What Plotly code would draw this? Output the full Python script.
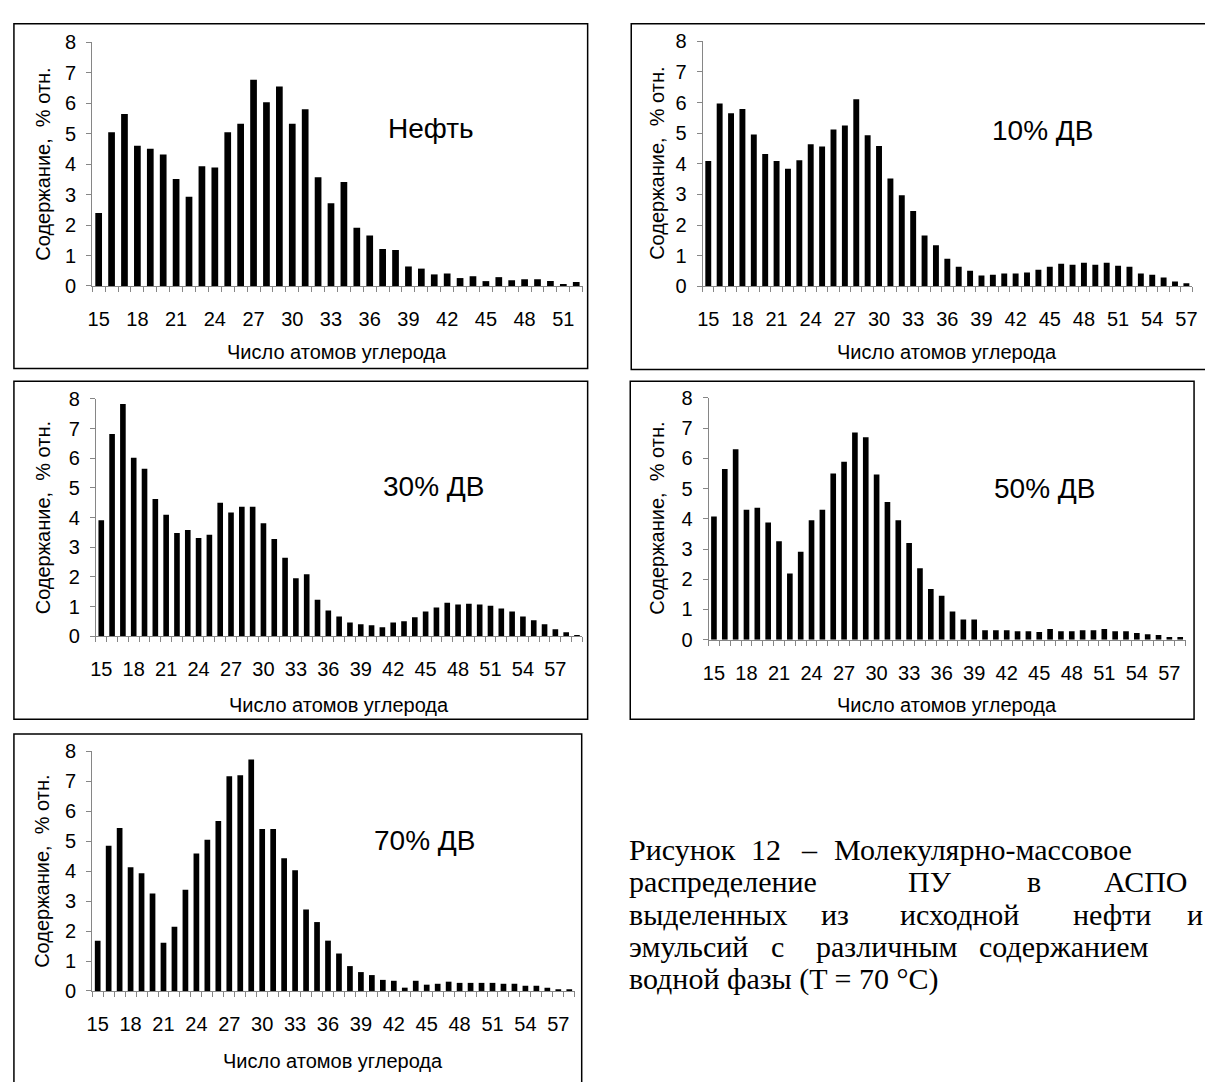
import plotly.graph_objects as go

# ---- data: relative content (%) of n-alkanes by carbon number ----
carbon_neft = list(range(15, 53))
neft = [2.39, 5.04, 5.64, 4.60, 4.50, 4.31, 3.51, 2.93, 3.93, 3.89,
        5.04, 5.32, 6.76, 6.03, 6.54, 5.32, 5.80, 3.57, 2.71, 3.41,
        1.91, 1.66, 1.21, 1.18, 0.64, 0.57, 0.38, 0.41, 0.26, 0.32,
        0.16, 0.29, 0.19, 0.22, 0.22, 0.16, 0.06, 0.13]

carbon_10 = list(range(15, 58))
dv_10 = [4.09, 5.97, 5.65, 5.79, 4.96, 4.32, 4.09, 3.84, 4.12, 4.64,
         4.57, 5.12, 5.25, 6.11, 4.93, 4.58, 3.52, 2.97, 2.46, 1.66,
         1.34, 0.90, 0.64, 0.51, 0.35, 0.38, 0.42, 0.42, 0.45, 0.54,
         0.64, 0.74, 0.70, 0.77, 0.70, 0.77, 0.67, 0.64, 0.42, 0.38,
         0.29, 0.16, 0.10]

carbon_30 = list(range(15, 60))
dv_30 = [3.91, 6.82, 7.83, 6.02, 5.65, 4.63, 4.10, 3.48, 3.58, 3.31,
         3.42, 4.50, 4.17, 4.37, 4.37, 3.81, 3.28, 2.65, 1.96, 2.09,
         1.23, 0.87, 0.67, 0.47, 0.41, 0.37, 0.31, 0.47, 0.51, 0.64,
         0.84, 0.97, 1.13, 1.07, 1.10, 1.07, 1.03, 0.94, 0.84, 0.67,
         0.54, 0.41, 0.24, 0.14, 0.04]

carbon_50 = list(range(15, 59))
dv_50 = [4.08, 5.65, 6.30, 4.30, 4.37, 3.88, 3.26, 2.19, 2.91, 3.95,
         4.30, 5.50, 5.89, 6.86, 6.70, 5.47, 4.56, 3.95, 3.20, 2.36,
         1.68, 1.45, 0.93, 0.67, 0.67, 0.31, 0.31, 0.31, 0.28, 0.28,
         0.25, 0.35, 0.28, 0.28, 0.31, 0.31, 0.35, 0.28, 0.28, 0.22,
         0.18, 0.15, 0.09, 0.09]

carbon_70 = list(range(15, 59))
dv_70 = [1.68, 4.85, 5.44, 4.13, 3.93, 3.25, 1.61, 2.14, 3.38, 4.59,
         5.05, 5.67, 7.17, 7.20, 7.73, 5.41, 5.41, 4.43, 4.03, 2.72,
         2.30, 1.68, 1.25, 0.83, 0.63, 0.53, 0.37, 0.34, 0.11, 0.34,
         0.21, 0.24, 0.31, 0.27, 0.27, 0.27, 0.27, 0.24, 0.24, 0.17,
         0.17, 0.11, 0.04, 0.04]

panel_labels = ["Нефть", "10% ДВ", "30% ДВ", "50% ДВ", "70% ДВ"]
y_title = "Содержание,  % отн."
x_title = "Число атомов углерода"
y_ticks = list(range(0, 9))

caption_lines = [
    ["Рисунок", "12", "–", "Молекулярно-массовое"],
    ["распределение", "ПУ", "в", "АСПО"],
    ["выделенных", "из", "исходной", "нефти", "и"],
    ["эмульсий", "с", "различным", "содержанием"],
    ["водной фазы (T = 70 °C)"],
]

# ---- page layout (pixels) ----
W, H = 1205, 1082
SANS = "Liberation Sans, Arial, sans-serif"
SERIF = "Liberation Serif, Times New Roman, serif"
AXIS_GRAY = "#868686"

series = [
    (carbon_neft, neft),
    (carbon_10, dv_10),
    (carbon_30, dv_30),
    (carbon_50, dv_50),
    (carbon_70, dv_70),
]

# plot box (x0, x1, y_top, y_zero), outer frame, label centre, title positions
geom = [
    dict(plot=(87, 582, 31.7, 280.7), frame=(8, 587, 13, 365),
         label=(429, 120), ytx=37, xty=348),
    dict(plot=(703, 1197, 31.0, 281.0), frame=(631, 1212, 13, 366),
         label=(1046, 122), ytx=657, xty=348),
    dict(plot=(90.7, 581.7, 396.0, 638.3), frame=(8, 587, 378, 723),
         label=(431, 485), ytx=37, xty=708),
    dict(plot=(709, 1190.5, 395.0, 641.7), frame=(630, 1199, 378, 723),
         label=(1048, 487), ytx=657, xty=708),
    dict(plot=(87, 574, 755.7, 1000.3), frame=(8, 581, 738, 1095),
         label=(422, 847), ytx=36, xty=1072),
]


def px(x):
    return x / W


def py(y):
    return 1 - y / H


fig = go.Figure()
layout = dict(
    width=W, height=H,
    margin=dict(l=0, r=0, t=0, b=0),
    paper_bgcolor="white", plot_bgcolor="white",
    showlegend=False,
    font=dict(family=SANS, color="black"),
    annotations=[], shapes=[],
)

for i, ((cx, cy), g) in enumerate(zip(series, geom), start=1):
    xa = "x" if i == 1 else f"x{i}"
    ya = "y" if i == 1 else f"y{i}"
    x0, x1, yt, y0 = g["plot"]

    fig.add_trace(go.Bar(
        x=cx, y=cy, xaxis=xa, yaxis=ya,
        marker=dict(color="black", line=dict(width=0)),
        width=0.52, hoverinfo="skip",
    ))

    layout[f"xaxis{'' if i == 1 else i}"] = dict(
        domain=[px(x0), px(x1)], anchor=ya,
        range=[cx[0] - 0.5, cx[-1] + 0.5],
        tickmode="array", tickvals=list(range(cx[0], cx[-1] + 1, 3)),
        ticks="", showgrid=False, zeroline=False,
        showline=True, linecolor=AXIS_GRAY, linewidth=1,
        tickfont=dict(size=20, family=SANS, color="black"),
        ticklabelstandoff=15,
        minor=dict(tickmode="linear", tick0=cx[0] - 0.5, dtick=1,
                   ticks="outside", ticklen=5, tickcolor=AXIS_GRAY,
                   tickwidth=1, showgrid=False),
        fixedrange=True,
    )
    layout[f"yaxis{'' if i == 1 else i}"] = dict(
        domain=[py(y0), py(yt)], anchor=xa,
        range=[0, 8], tickmode="array", tickvals=y_ticks,
        ticks="outside", ticklen=5, tickcolor=AXIS_GRAY, tickwidth=1,
        showgrid=False, zeroline=False,
        showline=True, linecolor=AXIS_GRAY, linewidth=1,
        tickfont=dict(size=20, family=SANS, color="black"),
        ticklabelstandoff=6,
        fixedrange=True,
    )

    # outer chart frame
    fx0, fx1, fy0, fy1 = g["frame"]
    layout["shapes"].append(dict(
        type="rect", xref="paper", yref="paper",
        x0=px(fx0), x1=px(fx1), y0=py(fy1), y1=py(fy0),
        line=dict(color="black", width=1.5), fillcolor="rgba(0,0,0,0)",
        layer="below",
    ))

    # panel label
    lx, ly = g["label"]
    layout["annotations"].append(dict(
        text=panel_labels[i - 1], xref="paper", yref="paper",
        x=px(lx), y=py(ly), xanchor="center", yanchor="middle",
        showarrow=False, font=dict(size=28, family=SANS, color="black"),
    ))
    # axis titles
    layout["annotations"].append(dict(
        text=y_title, xref="paper", yref="paper",
        x=px(g["ytx"]), y=py((yt + y0) / 2), textangle=-90,
        xanchor="center", yanchor="middle", showarrow=False,
        font=dict(size=20, family=SANS, color="black"),
    ))
    layout["annotations"].append(dict(
        text=x_title, xref="paper", yref="paper",
        x=px((x0 + x1) / 2), y=py(g["xty"]),
        xanchor="center", yanchor="middle", showarrow=False,
        font=dict(size=20, family=SANS, color="black"),
    ))

# figure caption, justified word by word
word_x = [
    [627, 750, 800, 834],
    [627, 908, 1028, 1106],
    [627, 820, 900, 1075, 1190],
    [627, 770, 815, 980],
    [627],
]
line_y = [856, 889, 922, 955, 988]
for words, xs, yl in zip(caption_lines, word_x, line_y):
    for w, xw in zip(words, xs):
        layout["annotations"].append(dict(
            text=w, xref="paper", yref="paper",
            x=px(xw), y=py(yl), xanchor="left", yanchor="middle",
            showarrow=False,
            font=dict(size=30, family=SERIF, color="black"),
        ))

fig.update_layout(**layout)
fig.write_html("out.html", config=dict(displayModeBar=False))
